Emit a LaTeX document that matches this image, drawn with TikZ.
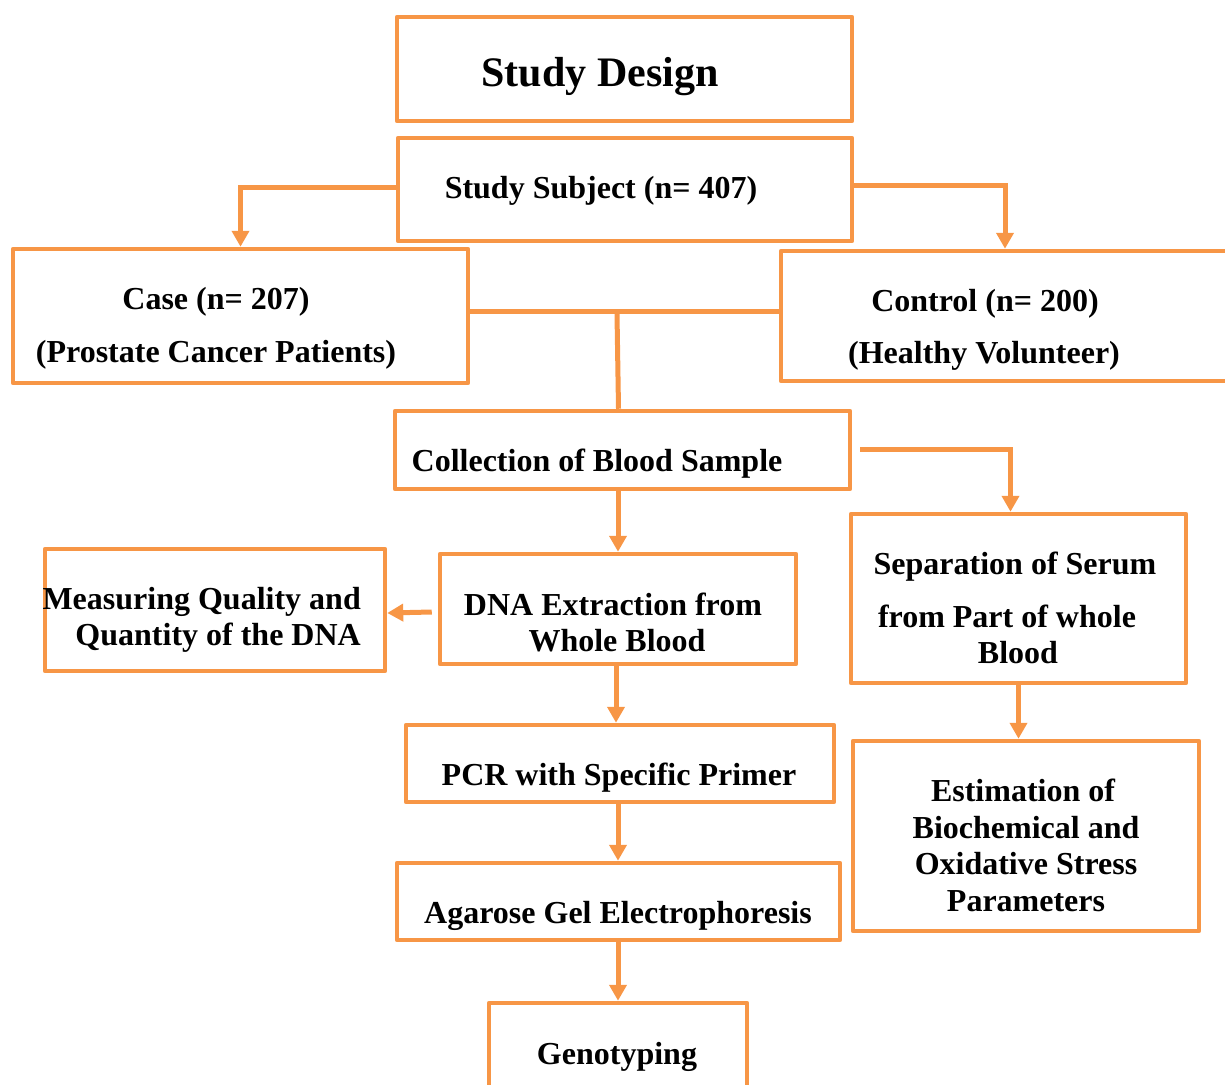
\documentclass[tikz,border=0pt]{standalone}
\usepackage{fontspec}
\setmainfont{Liberation Serif}
\usetikzlibrary{arrows.meta}
\definecolor{flow}{HTML}{F79646}
\begin{document}
\begin{tikzpicture}[x=1pt,y=-1pt,
  box/.style={draw=flow, line width=4.5pt, rectangle, inner sep=0pt, line join=round},
  txt/.style={anchor=base, inner sep=0pt, font=\bfseries\fontsize{32}{38}\selectfont},
  big/.style={anchor=base, inner sep=0pt, font=\bfseries\fontsize{42}{50}\selectfont},
  link/.style={draw=flow, line width=5pt},
  arr/.style={link, -{Triangle[width=17pt,length=16pt]}}]
\useasboundingbox (0,0) rectangle (1225,1084);
\clip (0,0) rectangle (1225,1084);

% boxes: centre and size
\node[box, minimum width=455pt, minimum height=104pt] (design) at (624.5,69) {};
\node[box, minimum width=454pt, minimum height=103pt] (subj) at (625,189.5) {};
\node[box, minimum width=455pt, minimum height=134pt] (case) at (240.5,316) {};
\node[box, minimum width=454pt, minimum height=130pt] (control) at (1008,316) {};
\node[box, minimum width=455pt, minimum height=78pt] (coll) at (622.5,450) {};
\node[box, minimum width=356pt, minimum height=110pt] (dna) at (618,609) {};
\node[box, minimum width=340pt, minimum height=122pt] (meas) at (215,610) {};
\node[box, minimum width=428pt, minimum height=77pt] (pcr) at (620,763.5) {};
\node[box, minimum width=443pt, minimum height=77pt] (gel) at (618.5,901.5) {};
\node[box, minimum width=258pt, minimum height=100pt] (geno) at (618,1053) {};
\node[box, minimum width=335pt, minimum height=169pt] (sep) at (1018.5,598.5) {};
\node[box, minimum width=346pt, minimum height=190pt] (est) at (1026,836) {};

% texts
\node[big] (tdesign) at (600,86) {Study Design};
\node[txt] (tsubj) at (601,198) {Study Subject (n= 407)};
\node[txt] (tcase1) at (216,309) {Case (n= 207)};
\node[txt] (tcase2) at (216,362) {(Prostate Cancer Patients)};
\node[txt] (tcon1) at (985,311) {Control (n= 200)};
\node[txt] (tcon2) at (984,363) {(Healthy Volunteer)};
\node[txt] (tcoll) at (597,471) {Collection of Blood Sample};
\node[txt] (tdna1) at (613,615) {DNA Extraction from};
\node[txt] (tdna2) at (617,651) {Whole Blood};
\node[txt, anchor=base east] (tmeas1) at (361,609) {Measuring Quality and};
\node[txt, anchor=base east] (tmeas2) at (361,645) {Quantity of the DNA};
\node[txt] (tpcr) at (619,785) {PCR with Specific Primer};
\node[txt] (tgel) at (618,923) {Agarose Gel Electrophoresis};
\node[txt] (tgeno) at (617,1064) {Genotyping};
\node[txt] (tsep1) at (1015,574) {Separation of Serum};
\node[txt] (tsep2) at (1007,627) {from Part of whole};
\node[txt] (tsep3) at (1018,663) {Blood};
\node[txt] (test1) at (1023,801) {Estimation of};
\node[txt] (test2) at (1026,838) {Biochemical and};
\node[txt] (test3) at (1026,874) {Oxidative Stress};
\node[txt] (test4) at (1026,911) {Parameters};

% connectors (shifts are in page points, positive = up)
\draw[arr] ([yshift=2.5pt]subj.west) -| (case.north);
\draw[arr] ([yshift=4.5pt]subj.east) -| ([xshift=-3pt]control.north);
\draw[link] ([yshift=5pt]case.east) -- ([yshift=5pt]control.west);
\coordinate (join) at (617,314);
\draw[link] (join) -- ([xshift=-4pt]coll.north);
\draw[arr] ([xshift=8pt,yshift=1pt]coll.east) -| ([xshift=-8pt]sep.north);
\draw[arr] (coll.south -| dna.north) -- (dna.north);
\draw[arr] ([xshift=-6pt,yshift=-3pt]dna.west) -- ([yshift=-3pt]meas.east);
\draw[arr] ([xshift=-2pt]dna.south) -- ([xshift=-2pt]dna.south |- pcr.north);
\draw[arr] ([xshift=-2pt]pcr.south) -- ([xshift=-2pt]pcr.south |- gel.north);
\draw[arr] (gel.south -| geno.north) -- (geno.north);
\draw[arr] (sep.south) -- (sep.south |- est.north);
\end{tikzpicture}
\end{document}
